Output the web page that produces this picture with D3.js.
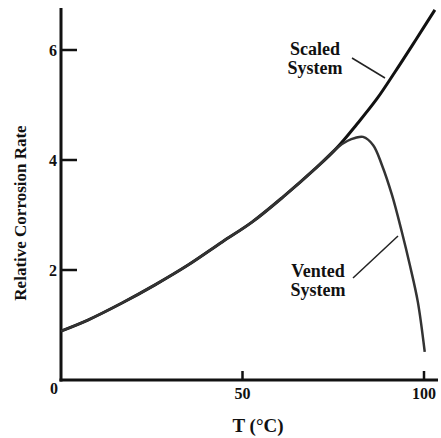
<!DOCTYPE html>
<html>
<head>
<meta charset="utf-8">
<script src="https://cdn.jsdelivr.net/npm/d3@7"></script>
<style>
  body { margin: 0; background: #fff; }
  text { font-family: "Liberation Serif", "Times New Roman", serif; font-weight: bold; fill: #111; }
</style>
</head>
<body>
<div id="chart"></div>
<script>
// curve values (T in °C, relative rate)
const scaledT = [0, 7.4, 16.8, 25.9, 35, 44.4, 52.6, 61.2, 70.5, 76, 81.5, 87, 92, 97.5, 103];
const scaledR = [0.89, 1.09, 1.40, 1.73, 2.09, 2.51, 2.87, 3.33, 3.87, 4.22, 4.65, 5.11, 5.60, 6.16, 6.73];
const ventedT = [0, 7.4, 16.8, 25.9, 35, 44.4, 52.6, 61.2, 70.5, 76, 79, 81, 83.2, 86, 88.4, 91.2, 93.9, 96.1, 98.3, 100.2];
const ventedR = [0.89, 1.09, 1.40, 1.73, 2.09, 2.51, 2.87, 3.33, 3.87, 4.22, 4.35, 4.40, 4.42, 4.27, 3.91, 3.36, 2.69, 2.09, 1.42, 0.51];
const xTicks = [0, 50, 100];
const yTicks = [2, 4, 6];

const width = 441, height = 438;
const svg = d3.select('#chart').append('svg')
    .attr('width', width)
    .attr('height', height);

const x = d3.scaleLinear().domain([0, 100]).range([61, 424]);
const y = d3.scaleLinear().domain([0, 6]).range([380, 50]);

const line = d3.line()
    .x(d => x(d[0]))
    .y(d => y(d[1]))
    .curve(d3.curveCatmullRom.alpha(0.5));

// axes
svg.append('line')
    .attr('x1', x(0)).attr('x2', x(0))
    .attr('y1', 8).attr('y2', y(0) + 1.5)
    .attr('stroke', '#111').attr('stroke-width', 3);
svg.append('line')
    .attr('x1', x(0) - 1.5).attr('x2', 438)
    .attr('y1', y(0)).attr('y2', y(0))
    .attr('stroke', '#111').attr('stroke-width', 3);

svg.selectAll('.ytick')
    .data(yTicks)
    .enter().append('line')
    .attr('x1', x(0)).attr('x2', x(0) + 16)
    .attr('y1', d => y(d)).attr('y2', d => y(d))
    .attr('stroke', '#111').attr('stroke-width', 2.5);

svg.selectAll('.xtick')
    .data(xTicks.filter(d => d > 0))
    .enter().append('line')
    .attr('x1', d => x(d)).attr('x2', d => x(d))
    .attr('y1', y(0)).attr('y2', y(0) - 9)
    .attr('stroke', '#111').attr('stroke-width', 2.5);

svg.selectAll('.ylab')
    .data(yTicks)
    .enter().append('text')
    .attr('x', x(0) - 4)
    .attr('y', d => y(d) + 6)
    .attr('text-anchor', 'end')
    .attr('font-size', 16)
    .text(d => d);

svg.selectAll('.xlab')
    .data(xTicks)
    .enter().append('text')
    .attr('x', d => d === 0 ? x(d) - 7 : x(d))
    .attr('y', d => d === 0 ? 394 : 399)
    .attr('text-anchor', 'middle')
    .attr('font-size', 16)
    .text(d => d);

// axis titles
svg.append('text')
    .attr('x', 258).attr('y', 432)
    .attr('text-anchor', 'middle')
    .attr('font-size', 19)
    .text('T (°C)');

svg.append('text')
    .attr('transform', 'translate(26,213) rotate(-90)')
    .attr('text-anchor', 'middle')
    .attr('font-size', 17)
    .text('Relative Corrosion Rate');

// curves
svg.append('path')
    .datum(d3.zip(scaledT, scaledR))
    .attr('d', line)
    .attr('fill', 'none')
    .attr('stroke', '#111')
    .attr('stroke-width', 3);

svg.append('path')
    .datum(d3.zip(ventedT, ventedR))
    .attr('d', line)
    .attr('fill', 'none')
    .attr('stroke', '#333')
    .attr('stroke-width', 2.5);

// labels with leader lines
const labels = [
    { lines: ['Scaled', 'System'], cx: 315, y0: 55, from: [352, 58], to: [385, 78] },
    { lines: ['Vented', 'System'], cx: 318, y0: 277, from: [353, 278], to: [398, 236] }
];

labels.forEach(l => {
    l.lines.forEach((t, i) => {
        svg.append('text')
            .attr('x', l.cx)
            .attr('y', l.y0 + i * 19)
            .attr('text-anchor', 'middle')
            .attr('font-size', 18)
            .text(t);
    });
    svg.append('line')
        .attr('x1', l.from[0]).attr('y1', l.from[1])
        .attr('x2', l.to[0]).attr('y2', l.to[1])
        .attr('stroke', '#222').attr('stroke-width', 1.5);
});
</script>
</body>
</html>
